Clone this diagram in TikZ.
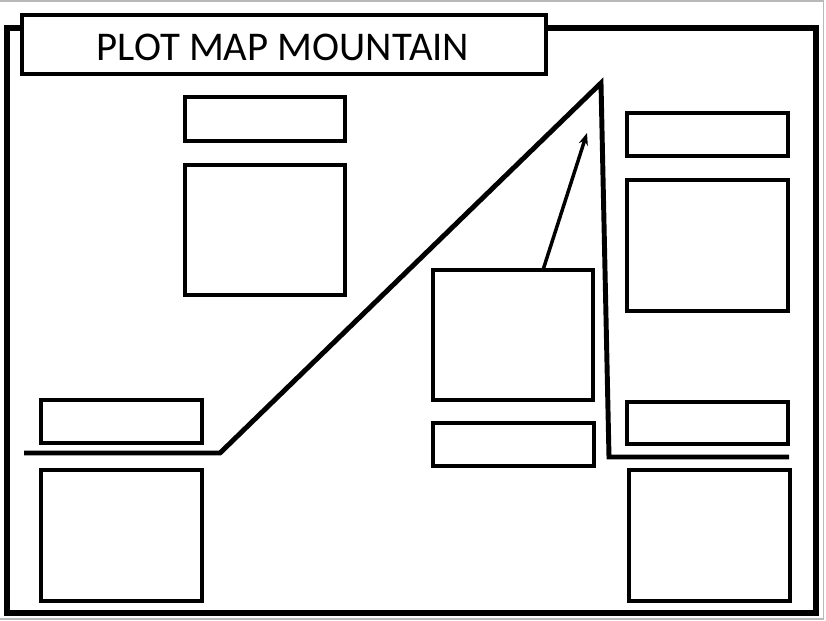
\documentclass[tikz,border=0pt]{standalone}
\usepackage{fontspec}
\setmainfont{Carlito}
\usepackage{tikz}
\usetikzlibrary{arrows.meta, positioning}

\tikzset{
    cadre/.style={line width=4.5pt},
    boite/.style={draw, line width=2.5pt, inner sep=0pt, outer sep=0pt, fill=white},
    relief/.style={line width=3.7pt, line join=miter},
    fleche/.style={line width=2.6pt, -{Stealth[length=9pt, width=7pt]}}
}

\begin{document}
\begin{tikzpicture}[x=0.75pt, y=-0.75pt]

    % Page
    \useasboundingbox (0,0) rectangle (826,621);
    \fill[white] (0,0) rectangle (826,621);
    \draw[gray!55, line width=1.1pt] (0,1) -- (823.5,1) -- (823.5,619) -- (0,619);

    % Cadre
    \draw[cadre] (6.5,27.5) rectangle (816,612.5);

    % Titre
    \node[boite, line width=3pt, minimum width={0.75pt*524}, minimum height={0.75pt*59}]
        (titre) at (284,44) {};
    \node[font=\fontsize{30.6}{33}\selectfont] (texte) at (283,47) {PLOT MAP MOUNTAIN};

    % Relief (ligne de la montagne)
    \coordinate (debut) at (24,453);
    \coordinate (pied) at (220,453);
    \coordinate (sommet) at (601,83);
    \coordinate (bas) at (609,457);
    \coordinate (fin) at (789,457);
    \draw[relief] (debut) -- (pied) -- (sommet) -- (bas) -- (fin);

    % Cases (nom/x/y/largeur/hauteur)
    \foreach \nom/\x/\y/\w/\h in {
        hautA/265/119/160/44, hautB/265/230/160/130,
        gaucheA/121.5/421.5/161/43, gaucheB/121.5/535.5/161/131,
        milieuA/513/335/160/130, milieuB/513.5/444.5/161/43,
        droiteA/707.5/134.5/161/43, droiteB/707.5/245.5/161/131,
        basA/707.5/423/161/42, basB/709.5/535.5/161/131} {
        \node[boite, minimum width={0.75pt*\w}, minimum height={0.75pt*\h}]
            (\nom) at (\x,\y) {};
    }

    % Fleche vers le sommet
    \coordinate (pointe) at (587,133);
    \draw[fleche] ([xshift=22.5pt]milieuA.north) -- (pointe);

\end{tikzpicture}
\end{document}
